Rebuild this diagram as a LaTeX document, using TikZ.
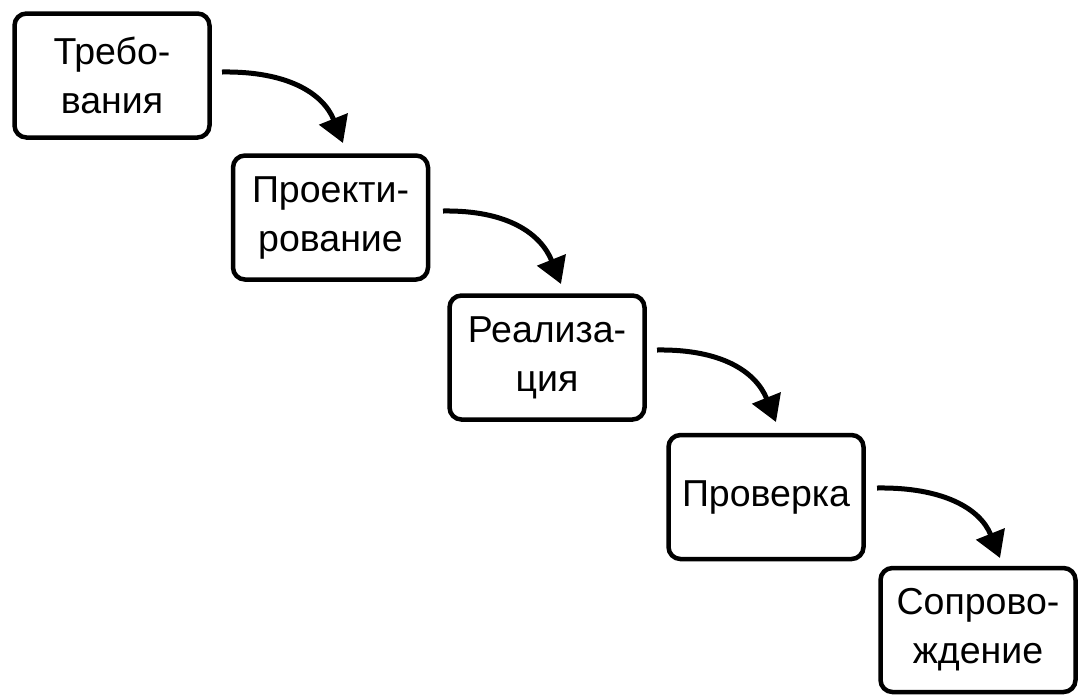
\documentclass[tikz,border=0pt]{standalone}
\usepackage{fontspec}
\setmainfont{Liberation Sans}
\usetikzlibrary{arrows.meta,calc}
\begin{document}
\begin{tikzpicture}[x=1pt,y=-1pt,
  stage/.style={draw=black,line width=4.5pt,rounded corners=12pt,fill=white,
    minimum width=195pt,minimum height=124pt,inner sep=0pt,align=center,
    font=\fontsize{37.5}{49}\selectfont},
  flow/.style={line width=5pt,-{Triangle[length=26pt,width=30pt]}}]
\useasboundingbox (0,0) rectangle (1078,697);
\node[stage] (b1) at (112,75.5) {Требо-\\вания};
\node[stage] (b2) at (330.5,217.5) {Проекти-\\рование};
\node[stage] (b3) at (547,357.5) {Реализа-\\ция};
\node[stage] (b4) at (766,497) {Проверка};
\node[stage] (b5) at (978,630) {Сопрово-\\ждение};
\coordinate (s1) at (222,72);  \coordinate (t1) at (343,143);
\coordinate (s2) at (443,211); \coordinate (t2) at (561,284);
\coordinate (s3) at (657,350); \coordinate (t3) at (776,422);
\coordinate (s4) at (877,488); \coordinate (t4) at (1000,558);
\foreach \i in {1,2,3,4}{
  \draw[flow] (s\i) .. controls ($(s\i)+(65,-1)$) and ($(t\i)+(-20,-50)$) .. (t\i);
}
\end{tikzpicture}
\end{document}
